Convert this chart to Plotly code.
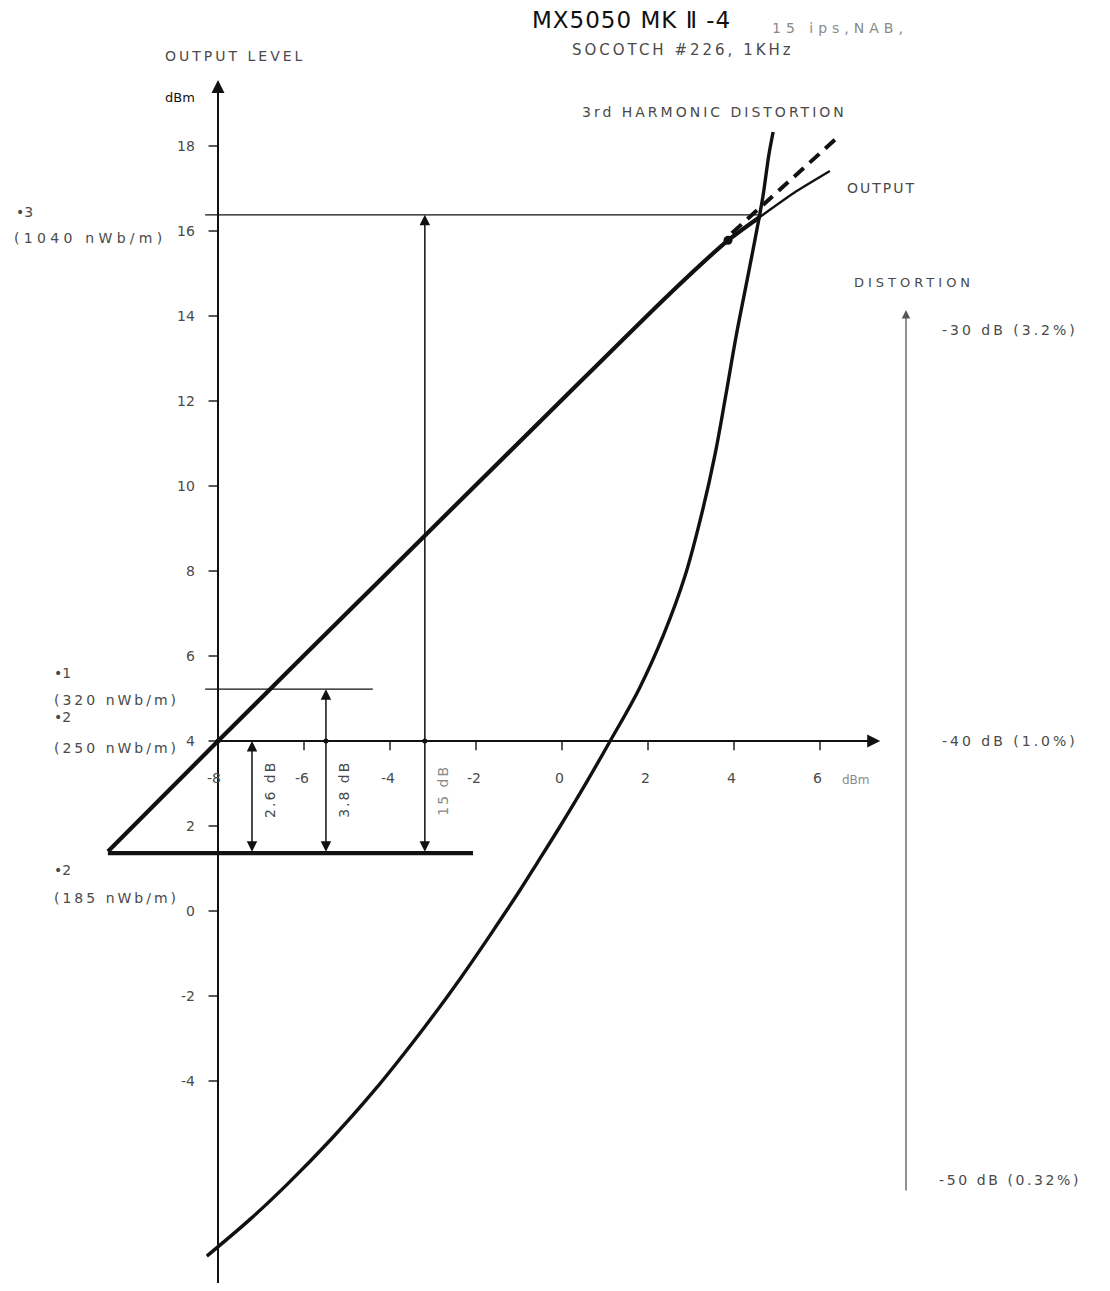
import plotly.graph_objects as go

# ---------------- data ----------------
# input level (dBm, x) vs output level (dBm, y)
output_in = [-10.56, -8.0, -4.0, 0.0, 2.5, 3.86, 4.6]
output_out = [1.40, 4.00, 8.02, 12.03, 14.52, 15.78, 16.33]
output_top_in = [4.6, 5.4, 6.23]
output_top_out = [16.33, 16.9, 17.41]
linear_ext_in = [3.95, 6.35]
linear_ext_out = [15.95, 18.15]

# 3rd harmonic distortion (dB, right axis) vs input level (dBm)
dist_in = [-8.26, -7.25, -6.38, -5.37, -4.38, -3.18, -2.36, -1.64, -0.99, -0.59,
           -0.04, 0.49, 1.12, 1.79, 2.37, 2.86, 3.26, 3.56, 3.81, 4.05, 4.30,
           4.49, 4.67, 4.81, 4.91]
dist_db = [-52.12, -51.25, -50.42, -49.37, -48.24, -46.71, -45.58, -44.52, -43.53,
           -42.89, -42.00, -41.11, -40.00, -38.78, -37.48, -36.12, -34.61, -33.25,
           -31.86, -30.47, -29.18, -28.19, -27.20, -26.21, -25.67]

# reference flux levels (output dBm)
ref_levels = [16.38, 5.22, 4.0, 1.36]
ref_marks = ["•3", "•1", "•2", "•2"]
ref_flux = ["(1040 nWb/m)", "(320 nWb/m)", "(250 nWb/m)", "(185 nWb/m)"]

# headroom dimensions
dim_x = [-7.21, -5.49, -3.19]
dim_top = [4.0, 5.22, 16.38]
dim_bottom = 1.36
dim_labels = ["2.6 dB", "3.8 dB", "15 dB"]

# axes ticks
y_ticks = [18, 16, 14, 12, 10, 8, 6, 4, 2, 0, -2, -4]
x_ticks = [-8, -6, -4, -2, 0, 2, 4, 6]
dist_ticks = [-30, -40, -50]
dist_tick_labels = ["-30 dB (3.2%)", "-40 dB (1.0%)", "-50 dB (0.32%)"]

# ---------------- figure ----------------
X0, X1 = -12.884, 12.558
Y0, Y1 = -8.753, 21.247
DOFF = 44.0  # distortion dB = output dBm - 44

INK = "#111111"
GREY = "#4a4a4a"
LIGHT = "#8a8a8a"
FONT = "DejaVu Sans"

fig = go.Figure()

# output (thick part)
fig.add_trace(go.Scatter(x=output_in, y=output_out, mode="lines",
                         line=dict(color=INK, width=4.2, shape="spline", smoothing=0.6),
                         hoverinfo="skip", showlegend=False))
fig.add_trace(go.Scatter(x=output_top_in, y=output_top_out, mode="lines",
                         line=dict(color=INK, width=2.4, shape="spline", smoothing=0.6),
                         hoverinfo="skip", showlegend=False))
# linear extension (dashed)
fig.add_trace(go.Scatter(x=linear_ext_in, y=linear_ext_out, mode="lines",
                         line=dict(color=INK, width=4, dash="13px,8px"),
                         hoverinfo="skip", showlegend=False))
fig.add_trace(go.Scatter(x=[output_in[5]], y=[output_out[5]], mode="markers",
                         marker=dict(color=INK, size=9),
                         hoverinfo="skip", showlegend=False))

# distortion curve on the right-hand scale
fig.add_trace(go.Scatter(x=dist_in, y=dist_db, yaxis="y2", mode="lines",
                         line=dict(color=INK, width=3.4, shape="spline", smoothing=1.0),
                         hoverinfo="skip", showlegend=False))

# reference level lines
fig.add_trace(go.Scatter(x=[-8.3, output_in[-1]], y=[ref_levels[0], ref_levels[0]], mode="lines",
                         line=dict(color=INK, width=1.4), hoverinfo="skip", showlegend=False))
fig.add_trace(go.Scatter(x=[-8.3, -4.4], y=[ref_levels[1], ref_levels[1]], mode="lines",
                         line=dict(color=INK, width=1.4), hoverinfo="skip", showlegend=False))
fig.add_trace(go.Scatter(x=[output_in[0], -2.07], y=[ref_levels[3], ref_levels[3]], mode="lines",
                         line=dict(color=INK, width=4.2), hoverinfo="skip", showlegend=False))

# tick marks
ytx, yty = [], []
for v in y_ticks:
    ytx += [-8.22, -8.0, None]
    yty += [v, v, None]
fig.add_trace(go.Scatter(x=ytx, y=yty, mode="lines", line=dict(color=INK, width=1.4),
                         hoverinfo="skip", showlegend=False))
xtx, xty = [], []
for v in x_ticks[1:]:
    xtx += [v, v, None]
    xty += [4.0, 3.78, None]
fig.add_trace(go.Scatter(x=xtx, y=xty, mode="lines", line=dict(color=INK, width=1.4),
                         hoverinfo="skip", showlegend=False))

# small dots where the dimension lines cross the axis
fig.add_trace(go.Scatter(x=[-8.0] + dim_x[1:], y=[4.0, 4.0, 4.0], mode="markers",
                         marker=dict(color=INK, size=5), hoverinfo="skip", showlegend=False))

ann = []

def arrow(xh, yh, xt, yt, width, color=INK, both=False, size=1.3, yref="y"):
    ann.append(dict(x=xh, y=yh, ax=xt, ay=yt, xref="x", yref=yref, axref="x", ayref=yref,
                    text="", showarrow=True, arrowhead=2, arrowsize=size, arrowwidth=width,
                    arrowcolor=color, arrowside="end+start" if both else "end", standoff=0,
                    startstandoff=0))

# axes
arrow(-8.0, 19.55, -8.0, -8.92, 2.0)
arrow(7.4, 4.0, -8.0, 4.0, 2.0)
arrow(8.0, 14.14 - DOFF, 8.0, -6.61 - DOFF, 1.3, color="#555555", yref="y2")


def spaced(text, sp):
    return f'<span style="letter-spacing:{sp}px">{text}</span>' if sp else text


# dimension arrows
for xv, top, lab in zip(dim_x, dim_top, dim_labels):
    arrow(xv, top, xv, dim_bottom, 1.5, both=True, size=1.4)
    ann.append(dict(x=xv + 0.42, y=2.85, xref="x", yref="y", text=spaced(lab, 2), showarrow=False,
                    textangle=-90, font=dict(family=FONT, size=14,
                                            color=LIGHT if lab == "15 dB" else GREY)))


def label(x, y, text, size=13, color=GREY, xanchor="left", yref="y", yshift=0, sp=0):
    ann.append(dict(x=x, y=y, xref="x", yref=yref, text=spaced(text, sp), showarrow=False,
                    xanchor=xanchor, yanchor="middle", yshift=yshift,
                    font=dict(family=FONT, size=size, color=color)))


# tick labels
for v in y_ticks:
    label(-8.5, v, str(v), size=14, color=GREY, xanchor="right")
for v in x_ticks:
    label(v - (0.1 if v == -8 else 0.05), 3.13, str(v), size=14, color=GREY, xanchor="center")
label(6.47, 3.08, "dBm", size=12, color=LIGHT)
for v, t, sh, sp in zip(dist_ticks, dist_tick_labels, [-14, 0, -14], [3, 3, 2.6]):
    label(8.72 if v == -50 else 8.79, v, t, size=14, color=GREY, yref="y2", yshift=sh, sp=sp)

# titles and captions
label(-0.74, 20.96, "MX5050 MK Ⅱ -4", size=23, color=INK, sp=1)
label(4.84, 20.78, "15 ips,NAB,", size=14, color=LIGHT, sp=5)
label(0.19, 20.26, "SOCOTCH #226, 1KHz", size=15, color=GREY, sp=3)
label(0.42, 18.80, "3rd HARMONIC DISTORTION", size=14, color=GREY, sp=3)
label(6.58, 17.01, "OUTPUT", size=14, color=GREY, sp=2)
label(6.74, 14.78, "DISTORTION", size=13, color=GREY, sp=4)
label(-9.28, 20.12, "OUTPUT LEVEL", size=14, color=GREY, sp=3)
label(-9.28, 19.15, "dBm", size=13, color=INK)

# reference flux labels
mark_pos = [(-12.75, 16.45), (-11.86, 5.60), (-11.86, 4.56), (-11.86, 0.96)]
flux_pos = [(-12.8, 15.84), (-11.86, 4.96), (-11.86, 3.84), (-11.86, 0.31)]
flux_sp = [4.3, 3, 3, 3]
for (mx, my), (fx, fy), m, f, sp in zip(mark_pos, flux_pos, ref_marks, ref_flux, flux_sp):
    label(mx, my, m, size=14, color=GREY)
    label(fx, fy, f, size=14, color=GREY, sp=sp)

fig.update_layout(
    width=1094, height=1275,
    margin=dict(l=0, r=0, t=0, b=0),
    paper_bgcolor="white", plot_bgcolor="white",
    xaxis=dict(range=[X0, X1], visible=False, fixedrange=True),
    yaxis=dict(range=[Y0, Y1], visible=False, fixedrange=True),
    yaxis2=dict(range=[Y0 - DOFF, Y1 - DOFF], visible=False, overlaying="y", fixedrange=True),
    annotations=ann,
    showlegend=False,
)

fig.write_html("out.html")
